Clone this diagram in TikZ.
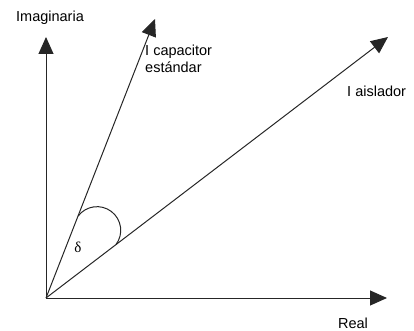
\documentclass[tikz,border=0pt]{standalone}
\usepackage{fontspec}
\setmainfont{Liberation Sans}
\newfontfamily\deltafont{Liberation Serif}
\usetikzlibrary{arrows.meta,positioning,calc}

\tikzset{
  phasor/.style={line width=1pt, draw=black!85, -{Triangle[length=17pt,width=15pt]}},
  lbl/.style={inner sep=0pt, font=\fontsize{14.5}{17}\selectfont}
}

\begin{document}
\begin{tikzpicture}[x=1pt, y=1pt]
        \useasboundingbox (0,0) rectangle (414,330);

        % Origin and arrow tips
        \coordinate (O) at (46,32);
        \coordinate (Im) at (46,293);
        \coordinate (Re) at (387,32);
        \coordinate (Ic) at (155,311);
        \coordinate (Ia) at (388,293);

        % Axes
        \draw[phasor] (O) -- (Im);
        \draw[phasor] (O) -- (Re);

        % Currents
        \draw[phasor] (O) -- (Ic);
        \draw[phasor] (O) -- (Ia);

        % Angle between the currents
        \draw[line width=1pt, draw=black!85] ($(O)+(68.6:88)$) arc[start angle=142.95, end angle=-37.05, radius=23.7];
        \node (delta) at (78,83) {\fontsize{15}{17}\deltafont δ};

        % Labels
        \node[lbl] (imag) at (50,312) {Imaginaria};
        \node[lbl, anchor=base] (real) at (353,2) {Real};
        \node[lbl, anchor=base west, align=left] (cap) at (145,258) {I capacitor\\estándar};
        \node[lbl, anchor=base west] (ais) at (347,234) {I aislador};
    \end{tikzpicture}
\end{document}
